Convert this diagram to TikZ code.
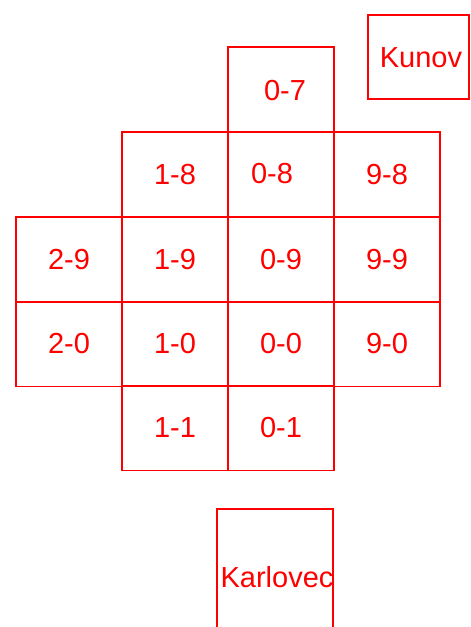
\documentclass[tikz,border=0pt]{standalone}
\usepackage{fontspec}
\setmainfont{Liberation Sans}
\usetikzlibrary{positioning}

\begin{document}
\begin{tikzpicture}[x=1pt, y=-1pt,
  cell/.style={draw=red, line width=1.3pt, outer sep=0pt, inner sep=0pt,
               minimum width=106pt, minimum height=85pt,
               text=red, font=\fontsize{29}{30}\selectfont},
  lbl/.style={text=red, inner sep=0pt, font=\fontsize{29}{30}\selectfont},
]
\useasboundingbox (0,0) rectangle (471,627);
\clip (0,0) rectangle (471,627);

% column 0 top
\node[cell] (c07) at (281,89.5) {};
\node[lbl] (t07) at (285,91) {0-7};

% row 8
\node[cell] (c18) at (175,174.5) {1-8};
\node[cell] (c08) at (281,174.5) {};
\node[lbl] (t08) at (272,174) {0-8};
\node[cell] (c98) at (387,174.5) {9-8};

% row 9
\node[cell] (c29) at (69,259.5) {2-9};
\node[cell] (c19) at (175,259.5) {1-9};
\node[cell] (c09) at (281,259.5) {0-9};
\node[cell] (c99) at (387,259.5) {9-9};

% row 0
\node[cell] (c20) at (69,344) {2-0};
\node[cell] (c10) at (175,344) {1-0};
\node[cell] (c00) at (281,344) {0-0};
\node[cell] (c90) at (387,344) {9-0};

% row 1
\node[cell] (c11) at (175,428) {1-1};
\node[cell] (c01) at (281,428) {0-1};

% places
\node[cell, minimum width=101pt, minimum height=84pt] (kunov) at (418.5,57) {};
\node[lbl] (tkunov) at (421,58) {Kunov};
\node[cell, minimum width=116pt, minimum height=160pt] (karlovec) at (275,589) {};
\node[lbl] (tkarlovec) at (277,577) {Karlovec};
\end{tikzpicture}
\end{document}
